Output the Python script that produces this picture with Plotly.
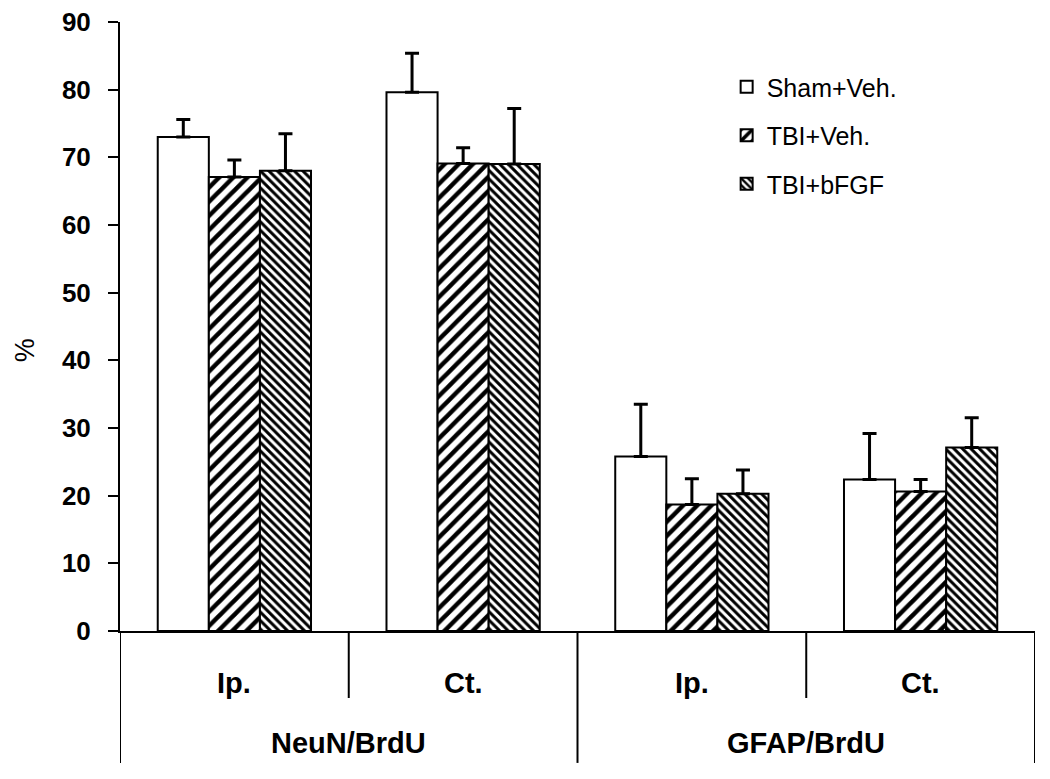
import plotly.graph_objects as go

# données
groupes = ["NeuN/BrdU", "GFAP/BrdU"]
regions = ["Ip.", "Ct.", "Ip.", "Ct."]
series = ["Sham+Veh.", "TBI+Veh.", "TBI+bFGF"]

sham = [73.0, 79.6, 25.8, 22.4]
sham_err = [2.6, 5.8, 7.7, 6.8]
tbi_veh = [67.1, 69.1, 18.7, 20.6]
tbi_veh_err = [2.5, 2.3, 3.8, 1.8]
tbi_fgf = [68.0, 69.0, 20.3, 27.1]
tbi_fgf_err = [5.5, 8.2, 3.5, 4.4]

x = list(range(len(regions)))
police = "Liberation Sans, Arial, sans-serif"

styles = [
    dict(shape="", bgcolor="white"),
    dict(shape="/", size=10, solidity=0.45, fgcolor="black", bgcolor="white", fgopacity=1),
    dict(shape="\\", size=6, solidity=0.5, fgcolor="black", bgcolor="white", fgopacity=1),
]

fig = go.Figure()
for nom, vals, errs, motif in zip(series, [sham, tbi_veh, tbi_fgf],
                                  [sham_err, tbi_veh_err, tbi_fgf_err], styles):
    fig.add_trace(go.Bar(
        x=x, y=vals, name=nom, legendgroup=nom,
        marker=dict(color="white", line=dict(color="black", width=2), pattern=motif),
        error_y=dict(type="data", array=errs, arrayminus=[0] * len(errs),
                     symmetric=False, color="black", thickness=3, width=7),
    ))

# étiquettes de l'axe x (deux niveaux)
for i, r in enumerate(regions):
    fig.add_annotation(x=i, y=-0.0853, xref="x", yref="paper", text="<b>%s</b>" % r,
                       showarrow=False, xanchor="center", yanchor="middle",
                       font=dict(size=29, family=police, color="black"))
for j, g in enumerate(groupes):
    fig.add_annotation(x=2 * j + 0.5, y=-0.1838, xref="x", yref="paper", text="<b>%s</b>" % g,
                       showarrow=False, xanchor="center", yanchor="middle",
                       font=dict(size=29, family=police, color="black"))

# séparateurs
for k in range(len(regions) + 1):
    bas = -0.2166 if k % 2 == 0 else -0.110
    fig.add_shape(type="line", xref="x", yref="paper", x0=k - 0.5, x1=k - 0.5,
                  y0=0, y1=bas, line=dict(color="black", width=2))

fig.add_annotation(x=-0.1038, y=0.461, xref="paper", yref="paper", text="%", textangle=-90,
                   showarrow=False, xanchor="center", yanchor="middle",
                   font=dict(size=27, family=police, color="black"))

fig.update_layout(
    width=1050, height=779,
    margin=dict(l=112, r=22.5, t=13.5, b=156, autoexpand=False),
    plot_bgcolor="white", paper_bgcolor="white",
    barmode="group", bargap=0.33, bargroupgap=0,
    showlegend=True,
    legend=dict(x=0.663, y=0.931, xanchor="left", yanchor="top",
                traceorder="grouped", tracegroupgap=13,
                font=dict(size=25, family=police, color="black"),
                bgcolor="rgba(0,0,0,0)"),
    xaxis=dict(range=[-0.5, 3.5], showticklabels=False, ticks="", showgrid=False,
               showline=True, linecolor="black", linewidth=2, zeroline=False,
               automargin=False),
    yaxis=dict(range=[0, 90], dtick=10, ticks="outside", ticklen=10, tickwidth=2,
               tickcolor="black", showgrid=False, showline=True, linecolor="black",
               linewidth=2, zeroline=False, ticklabelstandoff=12,
               ticklabeloverflow="allow", automargin=False,
               tickfont=dict(size=26, family=police, color="black", weight="bold")),
)

fig.write_html("out.html")
